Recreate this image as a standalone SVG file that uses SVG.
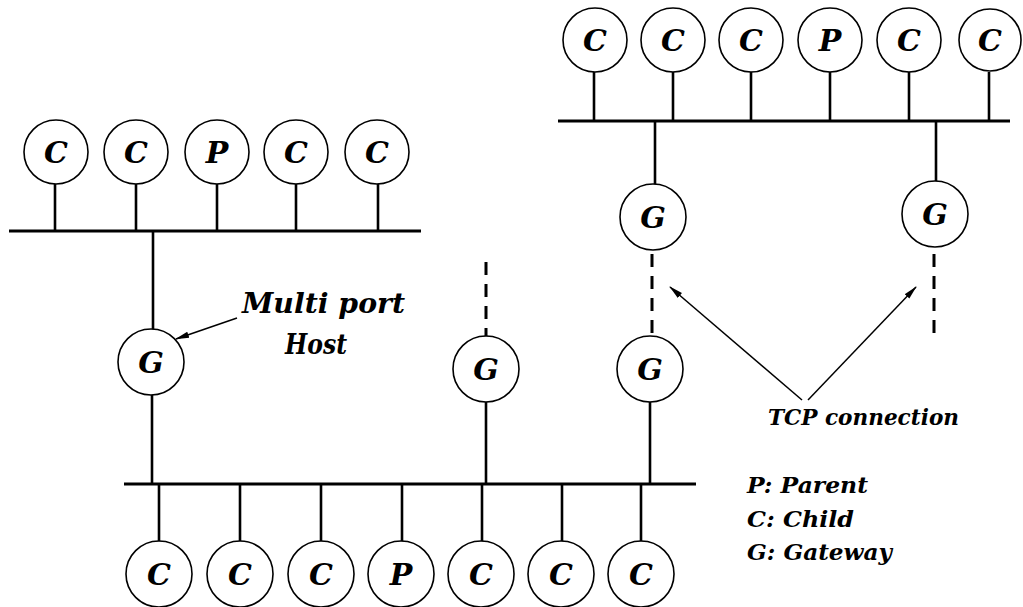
<svg xmlns="http://www.w3.org/2000/svg" width="1023" height="607" viewBox="0 0 1023 607">
<style>
.bg{fill:#fff}
.node circle{fill:#fff;stroke:#000;stroke-width:1.6}
.node text,.lbl{font-family:"DejaVu Serif","Liberation Serif",serif;font-weight:bold;font-style:italic;fill:#000}
.node text{font-size:30px;text-anchor:middle;dominant-baseline:central}
.bus{stroke:#000;stroke-width:3;fill:none}
.stem{stroke:#000;stroke-width:2.6;fill:none}
.dash{stroke:#000;stroke-width:3;fill:none;stroke-dasharray:13 9}
.arr{stroke:#000;stroke-width:1.5;fill:none;marker-end:url(#ah)}
</style>
<defs>
<marker id="ah" viewBox="0 0 14 8" refX="13" refY="4" markerWidth="14" markerHeight="8" markerUnits="userSpaceOnUse" orient="auto">
<path d="M0,0.8 L14,4 L0,7.2 Z" fill="#000"/>
</marker>
</defs>
<rect class="bg" width="1023" height="607"/>
<g id="connectors">
<line class="bus" x1="9" y1="231" x2="421" y2="231"/>
<line class="bus" x1="558" y1="121" x2="1010" y2="121"/>
<line class="bus" x1="124" y1="484" x2="696" y2="484"/>
<line class="stem" x1="55" y1="183" x2="55" y2="231"/>
<line class="stem" x1="136" y1="183" x2="136" y2="231"/>
<line class="stem" x1="217" y1="183" x2="217" y2="231"/>
<line class="stem" x1="296" y1="183" x2="296" y2="231"/>
<line class="stem" x1="378" y1="183" x2="378" y2="231"/>
<line class="stem" x1="594" y1="72" x2="594" y2="121"/>
<line class="stem" x1="673" y1="72" x2="673" y2="121"/>
<line class="stem" x1="751" y1="72" x2="751" y2="121"/>
<line class="stem" x1="830" y1="72" x2="830" y2="121"/>
<line class="stem" x1="909" y1="72" x2="909" y2="121"/>
<line class="stem" x1="989" y1="72" x2="989" y2="121"/>
<line class="stem" x1="159" y1="484" x2="159" y2="541"/>
<line class="stem" x1="240" y1="484" x2="240" y2="541"/>
<line class="stem" x1="321" y1="484" x2="321" y2="541"/>
<line class="stem" x1="402" y1="484" x2="402" y2="541"/>
<line class="stem" x1="482" y1="484" x2="482" y2="541"/>
<line class="stem" x1="562" y1="484" x2="562" y2="541"/>
<line class="stem" x1="641" y1="484" x2="641" y2="541"/>
<line class="stem" x1="153" y1="231" x2="153" y2="330"/>
<line class="stem" x1="152" y1="395" x2="152" y2="484"/>
<line class="dash" x1="486" y1="262" x2="486" y2="336"/>
<line class="stem" x1="486" y1="402" x2="486" y2="484"/>
<line class="stem" x1="655" y1="121" x2="655" y2="184"/>
<line class="dash" x1="652" y1="254" x2="652" y2="336"/>
<line class="stem" x1="650" y1="402" x2="650" y2="484"/>
<line class="stem" x1="936" y1="121" x2="936" y2="181"/>
<line class="dash" x1="934" y1="254" x2="934" y2="338"/>
<line class="arr" x1="237" y1="318" x2="176" y2="339"/>
<line class="arr" x1="802" y1="400" x2="670" y2="287"/>
<line class="arr" x1="808" y1="400" x2="916" y2="287"/>
</g>
<g id="tl-c1" class="node"><circle cx="56" cy="152" r="32"/><text x="56" y="152">C</text></g>
<g id="tl-c2" class="node"><circle cx="136" cy="152" r="32"/><text x="136" y="152">C</text></g>
<g id="tl-p" class="node"><circle cx="217" cy="152" r="32"/><text x="217" y="152">P</text></g>
<g id="tl-c3" class="node"><circle cx="296" cy="152" r="32"/><text x="296" y="152">C</text></g>
<g id="tl-c4" class="node"><circle cx="377" cy="152" r="32"/><text x="377" y="152">C</text></g>
<g id="tr-c1" class="node"><circle cx="595" cy="40" r="32"/><text x="595" y="40">C</text></g>
<g id="tr-c2" class="node"><circle cx="673" cy="40" r="32"/><text x="673" y="40">C</text></g>
<g id="tr-c3" class="node"><circle cx="751" cy="40" r="32"/><text x="751" y="40">C</text></g>
<g id="tr-p" class="node"><circle cx="830" cy="40" r="32"/><text x="830" y="40">P</text></g>
<g id="tr-c4" class="node"><circle cx="909" cy="40" r="32"/><text x="909" y="40">C</text></g>
<g id="tr-c5" class="node"><circle cx="990" cy="40" r="31"/><text x="990" y="40">C</text></g>
<g id="g-left" class="node"><circle cx="151" cy="362" r="33"/><text x="151" y="362">G</text></g>
<g id="g-mid" class="node"><circle cx="486" cy="369" r="33"/><text x="486" y="369">G</text></g>
<g id="g-right-low" class="node"><circle cx="650" cy="369" r="33"/><text x="650" y="369">G</text></g>
<g id="g-right-up1" class="node"><circle cx="653" cy="217" r="33"/><text x="653" y="217">G</text></g>
<g id="g-right-up2" class="node"><circle cx="935" cy="214" r="33"/><text x="935" y="214">G</text></g>
<g id="b-c1" class="node"><circle cx="159" cy="574" r="33"/><text x="159" y="574">C</text></g>
<g id="b-c2" class="node"><circle cx="240" cy="574" r="33"/><text x="240" y="574">C</text></g>
<g id="b-c3" class="node"><circle cx="321" cy="574" r="33"/><text x="321" y="574">C</text></g>
<g id="b-p" class="node"><circle cx="401" cy="574" r="33"/><text x="401" y="574">P</text></g>
<g id="b-c4" class="node"><circle cx="481" cy="574" r="33"/><text x="481" y="574">C</text></g>
<g id="b-c5" class="node"><circle cx="561" cy="574" r="33"/><text x="561" y="574">C</text></g>
<g id="b-c6" class="node"><circle cx="641" cy="574" r="33"/><text x="641" y="574">C</text></g>
<g id="labels">
<text class="lbl" x="242" y="313" font-size="28" textLength="163" lengthAdjust="spacingAndGlyphs">Multi port</text>
<text class="lbl" x="285" y="354" font-size="28" textLength="62" lengthAdjust="spacingAndGlyphs">Host</text>
<text class="lbl" x="768" y="425" font-size="23" textLength="191" lengthAdjust="spacingAndGlyphs">TCP connection</text>
<text class="lbl" x="747" y="493" font-size="22" textLength="121" lengthAdjust="spacingAndGlyphs">P:  Parent</text>
<text class="lbl" x="747" y="527" font-size="22" textLength="107" lengthAdjust="spacingAndGlyphs">C:  Child</text>
<text class="lbl" x="747" y="560" font-size="22" textLength="145" lengthAdjust="spacingAndGlyphs">G:  Gateway</text>
</g>
</svg>
